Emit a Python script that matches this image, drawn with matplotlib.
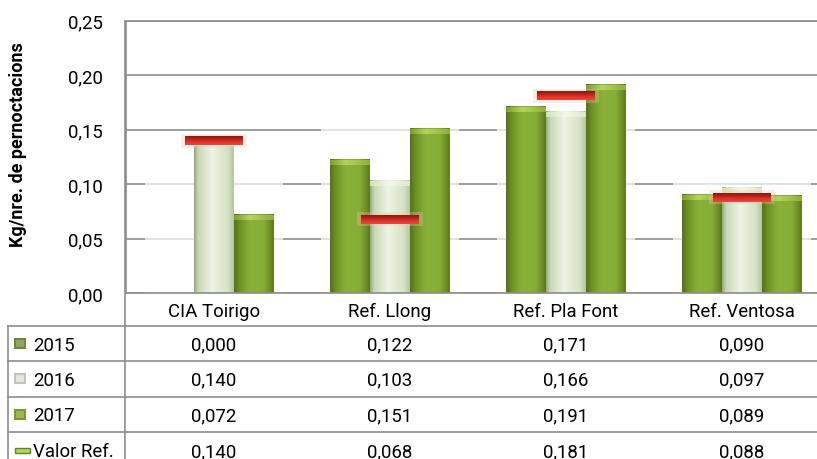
import numpy as np
import matplotlib
matplotlib.use('Agg')
import matplotlib.pyplot as plt
from matplotlib.colors import LinearSegmentedColormap
from matplotlib.patches import Rectangle, FancyBboxPatch
from matplotlib.ticker import FuncFormatter, MultipleLocator

# Dades
categories = ['CIA Toirigo', 'Ref. Llong', 'Ref. Pla Font', 'Ref. Ventosa']
v2015 = [0.000, 0.122, 0.171, 0.090]
v2016 = [0.140, 0.103, 0.166, 0.097]
v2017 = [0.072, 0.151, 0.191, 0.089]
valor_ref = [0.140, 0.068, 0.181, 0.088]
row_labels = ['2015', '2016', '2017', 'Valor Ref.']

plt.rcParams['font.family'] = ['Roboto', 'DejaVu Sans']
FS = 13.4
GRID = '#8c8c8c'

W, H = 817, 460
fig = plt.figure(figsize=(W / 100, H / 100), dpi=100)

# capa en pixels per a la taula de dades
tab = fig.add_axes([0, 0, 1, 1], zorder=0)
tab.set_xlim(0, W)
tab.set_ylim(H, 0)
tab.axis('off')

ax_left, ax_right, ax_top, ax_bot = 126, 830, 21.7, 294.3
ax = fig.add_axes([ax_left / W, 1 - ax_bot / H, (ax_right - ax_left) / W,
                   (ax_bot - ax_top) / H], zorder=1)
ax.patch.set_alpha(0)


def grad(stops, n=64):
    cmap = LinearSegmentedColormap.from_list('g', stops)
    return cmap(np.linspace(0, 1, n))


green_body = grad([(0, '#55711b'), (0.12, '#6c8d25'), (0.4, '#8ab23a'),
                   (0.75, '#86ad37'), (0.9, '#6f9028'), (1, '#5c7a1f')])[None]
green_cap = grad([(0, '#7e9e30'), (0.4, '#b4d45c'), (1, '#8fb03c')])[None]
light_body = grad([(0, '#9aa882'), (0.1, '#c9d7b4'), (0.45, '#eef4e6'),
                   (0.85, '#d6e2c4'), (1, '#b8c6a0')])[None]
light_cap = grad([(0, '#d4e2bc'), (0.5, '#f3f8ea'), (1, '#dde8cc')])[None]
red_mark = grad([(0, '#7a2210'), (0.3, '#b81f18'), (0.65, '#e6322c'),
                 (1, '#d9503e')])[:, None]

x = np.arange(len(categories))
bw = 0.227
px = 0.25 / (ax_bot - ax_top)   # valor per pixel
cap_h = 5 * px

series = [(v2015, green_body, green_cap), (v2016, light_body, light_cap),
          (v2017, green_body, green_cap)]

for i in x:
    vals = [v2015[i], v2016[i], v2017[i]]
    # halo blanc darrere el grup
    ax.add_patch(Rectangle((i - 1.5 * bw - 0.05, 0), 3 * bw + 0.1, max(vals) + 0.004,
                           facecolor='white', alpha=0.7, edgecolor='none', zorder=1))
    for k, (vals_s, body, cap) in enumerate(series):
        v = vals_s[i]
        if v <= 0:
            continue
        x0 = i + (k - 1.5) * bw
        ax.imshow(body, extent=[x0, x0 + bw, 0, v], aspect='auto',
                  interpolation='bilinear', zorder=2)
        ax.imshow(cap, extent=[x0, x0 + bw, v - cap_h, v], aspect='auto',
                  interpolation='bilinear', zorder=2.1)
    # marcador del valor de referencia
    r = valor_ref[i]
    ax.add_patch(Rectangle((i - 0.185, r - 7 * px), 0.37, 14 * px, facecolor='#f6c4a8',
                           alpha=0.3, edgecolor='none', zorder=3))
    ax.imshow(red_mark, extent=[i - 0.162, i + 0.162, r - 4.5 * px, r + 4.5 * px],
              aspect='auto', interpolation='bilinear', zorder=4)

ax.set_xlim(-0.5, len(categories) - 0.5)
ax.set_ylim(0, 0.25)
ax.yaxis.set_major_locator(MultipleLocator(0.05))
ax.yaxis.set_major_formatter(FuncFormatter(lambda v, p: f'{v:.2f}'.replace('.', ',')))
ax.set_xticks([])
ax.tick_params(axis='y', length=0, pad=16.5, labelsize=FS)
ax.yaxis.grid(True, color=GRID, lw=1.2)
ax.set_axisbelow(True)
for s in ['left', 'bottom', 'top']:
    ax.spines[s].set_color(GRID)
    ax.spines[s].set_linewidth(1.2)
ax.spines['right'].set_visible(False)
ax.set_ylabel('Kg/nre. de pernoctacions', fontsize=13, fontweight='bold')
ax.yaxis.set_label_coords(-0.14, 0.548)

# taula de dades
col_px = ax.transData.transform(np.column_stack([x, np.zeros(len(x))]))[:, 0]
rows = [294.3, 327.3, 362.0, 397.5, 433.3, 469.0]
tab.plot([ax_left - 1, ax_left - 1], [ax_top, H], color=GRID, lw=1.2)
tab.plot([8, 8], [rows[1], H], color=GRID, lw=1.2)
for yy in rows[1:5]:
    tab.plot([8, W], [yy, yy], color=GRID, lw=1.2)

for cx, name in zip(col_px, categories):
    tab.text(cx, (rows[0] + rows[1]) / 2 + 1, name, ha='center', va='center', fontsize=FS)

table_vals = [v2015, v2016, v2017, valor_ref]
key_cols = [('#6f8540', '#93a564'), ('#c4c4bc', '#e6e6de'), ('#78983a', '#9ab858')]
for r, (lab, vals) in enumerate(zip(row_labels, table_vals)):
    yc = (rows[r + 1] + rows[r + 2]) / 2
    tab.text(33, yc + 1, lab, ha='left', va='center', fontsize=FS)
    for cx, v in zip(col_px, vals):
        tab.text(cx, yc + 1, f'{v:.3f}'.replace('.', ','), ha='center', va='center',
                 fontsize=FS)
    if r < 3:
        dark, light = key_cols[r]
        tab.add_patch(Rectangle((15, yc - 4.5), 10, 9, facecolor=light,
                                edgecolor=dark, lw=1.5))
    else:
        tab.add_patch(Rectangle((15, yc - 2), 15, 4.5, facecolor='#b0d468',
                                edgecolor='#5e8a22', lw=1))

fig.savefig('out.png', dpi=100)
